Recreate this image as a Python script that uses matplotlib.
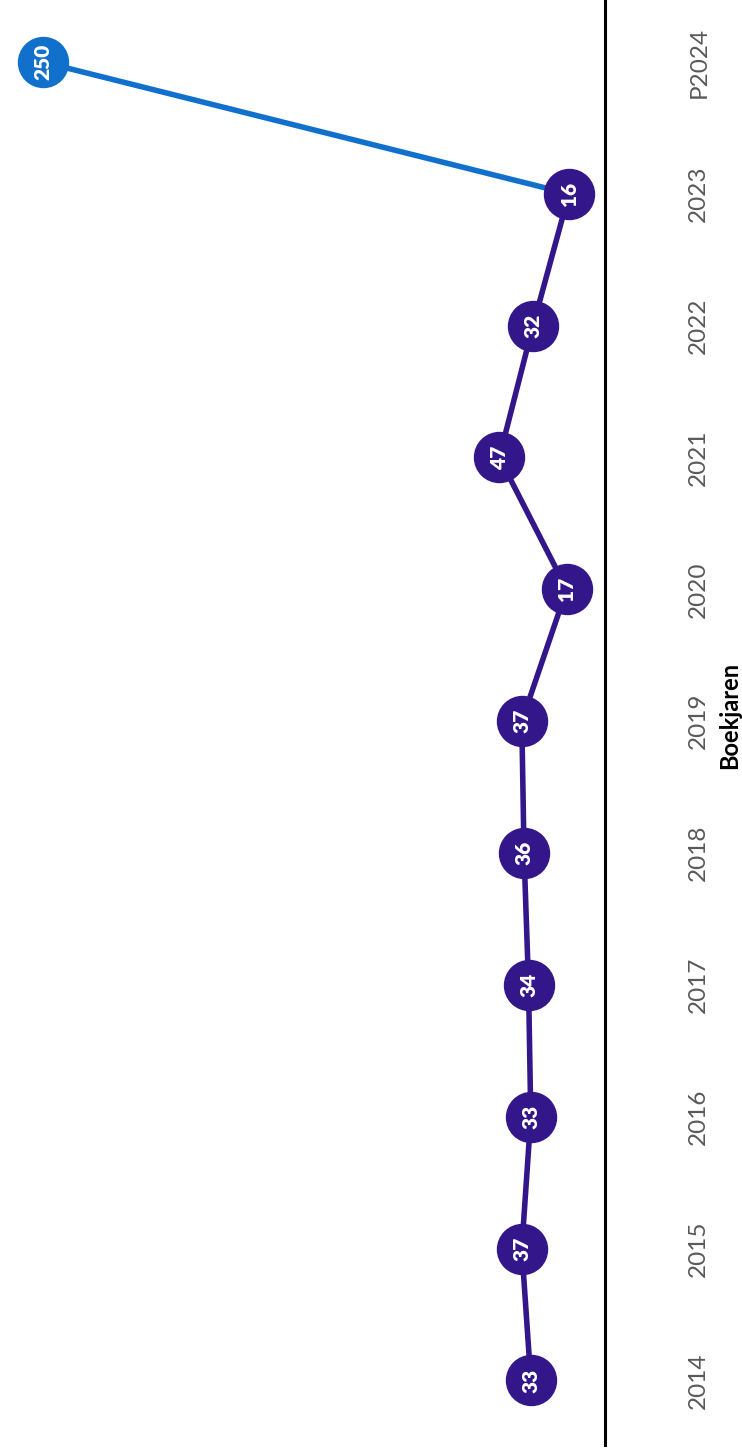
import matplotlib.pyplot as plt

years = ["2014", "2015", "2016", "2017", "2018", "2019", "2020", "2021", "2022", "2023", "P2024"]
actuals = [33, 37, 33, 34, 36, 37, 17, 47, 32, 16]
forecast = 250

purple = "#33178a"
blue = "#1170cc"

fig = plt.figure(figsize=(7.42, 14.51), dpi=100)
# chart is drawn turned a quarter: values run right-to-left, years bottom-to-top
ax = fig.add_axes([0, 6 / 1451, 605 / 742, 1445 / 1451])

pos = list(range(len(years)))
last = len(actuals) - 1

# forecast segment first so the last actual marker sits on top
ax.plot([actuals[last], forecast], [pos[last], pos[last + 1]], color=blue, lw=4,
        marker="o", markersize=36, markevery=[1], solid_capstyle="round", zorder=2)
ax.plot(actuals, pos[:len(actuals)], color=purple, lw=4, marker="o",
        markersize=36, zorder=3)

for v, p in zip(actuals, pos):
    ax.text(v, p, str(v), rotation=90, ha="center", va="center", color="white",
            fontsize=15, fontweight="heavy", family="Lato", zorder=4)
ax.text(forecast, pos[-1], str(forecast), rotation=90, ha="center", va="center",
        color="white", fontsize=15, fontweight="heavy", family="Lato", zorder=4)

ax.set_xlim(269, 0)
ax.set_ylim(-0.49, 10.47)

for s in ["left", "top", "bottom"]:
    ax.spines[s].set_visible(False)
ax.spines["right"].set_linewidth(2.2)
ax.spines["right"].set_color("black")

ax.set_xticks([])
ax.yaxis.tick_right()
ax.set_yticks(pos)
ax.set_yticklabels(years, rotation=90, va="center", family="Lato", fontsize=17.5,
                   color="#595959")
ax.tick_params(axis="y", length=0, pad=60)

fig.text(730 / 742, 1 - 715 / 1451, "Boekjaren", rotation=90, ha="center", va="center",
         fontsize=17, fontweight="bold", family="Lato", color="black")

fig.savefig("out.png", dpi=100)
